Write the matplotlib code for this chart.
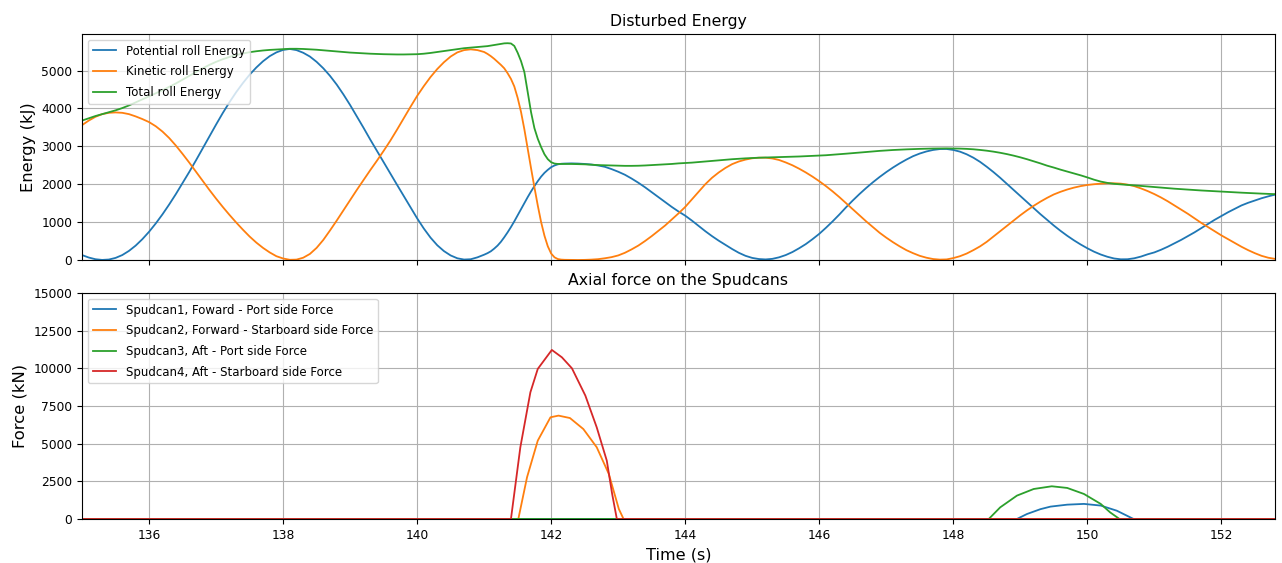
import matplotlib
matplotlib.use("Agg")
import matplotlib.pyplot as plt

# ---- Roll energy time histories (kJ), sampled every 0.1 s (0.05 s around the impact) ----
t_energy = [
    135.0, 135.1, 135.2, 135.3, 135.4, 135.5, 135.6, 135.7, 135.8, 135.9,
    136.0, 136.1, 136.2, 136.3, 136.4, 136.5, 136.6, 136.7, 136.8, 136.9,
    137.0, 137.1, 137.2, 137.3, 137.4, 137.5, 137.6, 137.7, 137.8, 137.9,
    138.0, 138.1, 138.2, 138.3, 138.4, 138.5, 138.6, 138.7, 138.8, 138.9,
    139.0, 139.1, 139.2, 139.3, 139.4, 139.5, 139.6, 139.7, 139.8, 139.9,
    140.0, 140.1, 140.2, 140.3, 140.4, 140.5, 140.6, 140.7, 140.8, 140.9,
    141.0,
    141.05, 141.10, 141.15, 141.20, 141.25, 141.30, 141.35, 141.40, 141.45, 141.50,
    141.55, 141.60, 141.65, 141.70, 141.75, 141.80, 141.85, 141.90, 141.95, 142.00,
    142.05, 142.10, 142.15, 142.20,
    142.3, 142.4, 142.5, 142.6, 142.7, 142.8, 142.9,
    143.0, 143.1, 143.2, 143.3, 143.4, 143.5, 143.6, 143.7, 143.8, 143.9,
    144.0, 144.1, 144.2, 144.3, 144.4, 144.5, 144.6, 144.7, 144.8, 144.9,
    145.0, 145.1, 145.2, 145.3, 145.4, 145.5, 145.6, 145.7, 145.8, 145.9,
    146.0, 146.1, 146.2, 146.3, 146.4, 146.5, 146.6, 146.7, 146.8, 146.9,
    147.0, 147.1, 147.2, 147.3, 147.4, 147.5, 147.6, 147.7, 147.8, 147.9,
    148.0, 148.1, 148.2, 148.3, 148.4, 148.5, 148.6, 148.7, 148.8, 148.9,
    149.0, 149.1, 149.2, 149.3, 149.4, 149.5, 149.6, 149.7, 149.8, 149.9,
    150.0, 150.1, 150.2, 150.3, 150.4, 150.5, 150.6, 150.7, 150.8, 150.9,
    151.0, 151.1, 151.2, 151.3, 151.4, 151.5, 151.6, 151.7, 151.8, 151.9,
    152.0, 152.1, 152.2, 152.3, 152.4, 152.5, 152.6, 152.7, 152.8,
]

potential_energy = [
    130, 65, 20, 2, 12, 55, 130, 240, 380, 550,
    745, 965, 1205, 1465, 1740, 2030, 2325, 2630, 2945, 3260,
    3575, 3880, 4165, 4430, 4670, 4890, 5080, 5245, 5380, 5480,
    5545, 5570, 5540, 5470, 5370, 5230, 5060, 4860, 4630, 4370,
    4090, 3790, 3490, 3180, 2880, 2580, 2280, 1985, 1690, 1390,
    1100, 830, 590, 390, 235, 120, 45, 12, 20, 70,
    140,
    180, 230, 300, 380, 480, 600, 730, 870, 1020, 1180,
    1340, 1500, 1660, 1810, 1950, 2080, 2200, 2300, 2380, 2450,
    2495, 2525, 2540, 2545,
    2550, 2545, 2535, 2520, 2495, 2460, 2400,
    2330, 2250, 2150, 2040, 1920, 1790, 1660, 1530, 1400, 1280,
    1170, 1040, 900, 760, 630, 510, 400, 290, 190, 110,
    55, 25, 15, 30, 70, 130, 210, 310, 420, 550,
    690, 850, 1020, 1200, 1390, 1570, 1740, 1900, 2050, 2190,
    2320, 2440, 2550, 2650, 2740, 2810, 2865, 2905, 2928, 2930,
    2905, 2860, 2790, 2700, 2590, 2460, 2320, 2170, 2010, 1850,
    1690, 1530, 1370, 1210, 1060, 910, 770, 640, 520, 410,
    310, 220, 145, 85, 40, 18, 20, 45, 90, 150,
    200, 270, 350, 440, 530, 630, 730, 840, 950, 1060,
    1160, 1260, 1350, 1440, 1510, 1570, 1630, 1680, 1725,
]

kinetic_energy = [
    3560, 3680, 3780, 3850, 3885, 3895, 3885, 3850, 3790, 3720,
    3640, 3530, 3390, 3220, 3020, 2800, 2570, 2330, 2090, 1850,
    1620, 1400, 1190, 990, 800, 620, 460, 320, 200, 100,
    40, 5, 10, 60, 160, 320, 530, 780, 1040, 1310,
    1580, 1850, 2110, 2370, 2620, 2880, 3150, 3440, 3740, 4040,
    4330, 4590, 4830, 5040, 5220, 5370, 5480, 5540, 5560, 5540,
    5490,
    5440, 5380, 5310, 5230, 5150, 5060, 4930, 4780, 4580, 4280,
    3910, 3450, 2930, 2420, 1920, 1440, 1000, 640, 360, 170,
    70, 25, 10, 5,
    2, 0, 3, 10, 22, 45, 75,
    120, 190, 280, 380, 500, 630, 770, 910, 1070, 1230,
    1400, 1600, 1800, 2000, 2170, 2310, 2430, 2530, 2600, 2650,
    2685, 2700, 2700, 2680, 2640, 2575, 2500, 2410, 2310, 2200,
    2080, 1950, 1810, 1660, 1500, 1340, 1180, 1020, 870, 720,
    590, 470, 360, 260, 180, 110, 60, 25, 10, 15,
    50, 100, 170, 260, 360, 480, 620, 760, 900, 1040,
    1180, 1310, 1430, 1540, 1640, 1730, 1800, 1860, 1910, 1950,
    1980, 2000, 2015, 2025, 2025, 2015, 1990, 1950, 1890, 1820,
    1740, 1650, 1550, 1440, 1330, 1220, 1100, 980, 870, 760,
    650, 550, 450, 350, 260, 180, 110, 60, 30,
]

total_energy = [
    3680, 3740, 3800, 3850, 3900, 3950, 4010, 4080, 4160, 4240,
    4320, 4400, 4480, 4570, 4660, 4760, 4860, 4960, 5060, 5150,
    5230, 5300, 5360, 5410, 5450, 5485, 5510, 5530, 5545, 5555,
    5565, 5575, 5575, 5570, 5560, 5550, 5535, 5520, 5505, 5490,
    5475, 5465, 5455, 5445, 5438, 5432, 5428, 5425, 5425, 5428,
    5432, 5445, 5465, 5490, 5515, 5540, 5565, 5590, 5605, 5620,
    5635,
    5645, 5660, 5675, 5690, 5705, 5718, 5722, 5715, 5650, 5470,
    5250, 4960, 4430, 3900, 3480, 3200, 2980, 2790, 2660, 2580,
    2545, 2535, 2535, 2535,
    2535, 2530, 2525, 2515, 2505, 2500, 2495,
    2490, 2485, 2485, 2488, 2495, 2505, 2515, 2525, 2535, 2550,
    2560, 2570, 2585, 2600, 2615, 2630, 2645, 2660, 2672, 2683,
    2692, 2700, 2705, 2710, 2715, 2720, 2725, 2732, 2740, 2748,
    2755, 2765, 2778, 2792, 2806, 2820, 2835, 2850, 2865, 2880,
    2892, 2903, 2912, 2920, 2927, 2933, 2938, 2942, 2945, 2946,
    2944, 2940, 2933, 2922, 2905, 2885, 2860, 2830, 2795, 2755,
    2710, 2660, 2605, 2550, 2490, 2440, 2385, 2335, 2285, 2235,
    2180, 2120, 2070, 2035, 2010, 1995, 1982, 1970, 1955, 1940,
    1925, 1910, 1895, 1882, 1870, 1858, 1846, 1835, 1825, 1815,
    1805, 1795, 1786, 1777, 1768, 1760, 1752, 1745, 1738,
]

# ---- Spudcan axial forces (kN) ----
t_spud1 = [135.0, 148.95, 149.10, 149.30, 149.45, 149.70, 149.95, 150.20, 150.44, 150.59, 150.69, 152.8]
f_spud1 = [0, 0, 330, 650, 820, 950, 1000, 890, 550, 220, 0, 0]

t_spud2 = [135.0, 141.51, 141.64, 141.80, 141.99, 142.11, 142.28, 142.48, 142.68, 142.86, 143.01, 143.08, 152.8]
f_spud2 = [0, 0, 2770, 5200, 6750, 6860, 6700, 5970, 4760, 2990, 660, 0, 0]

t_spud3 = [135.0, 148.53, 148.70, 148.95, 149.20, 149.47, 149.70, 149.95, 150.20, 150.34, 150.48, 152.8]
f_spud3 = [0, 0, 770, 1550, 1990, 2170, 2060, 1660, 1000, 440, 0, 0]

t_spud4 = [135.0, 141.40, 141.54, 141.69, 141.80, 142.01, 142.16, 142.31, 142.51, 142.68, 142.83, 142.91, 142.98, 152.8]
f_spud4 = [0, 0, 4760, 8410, 9960, 11220, 10730, 10000, 8190, 6080, 3870, 1660, 0, 0]

energy_labels = ["Potential roll Energy", "Kinetic roll Energy", "Total roll Energy"]
spud_labels = [
    "Spudcan1, Foward - Port side Force",
    "Spudcan2, Forward - Starboard side Force",
    "Spudcan3, Aft - Port side Force",
    "Spudcan4, Aft - Starboard side Force",
]

fig = plt.figure(figsize=(12.82, 5.63), dpi=100)
ax1 = fig.add_axes([0.064, 0.5382, 0.9305, 0.4014])
ax2 = fig.add_axes([0.064, 0.0782, 0.9305, 0.4014], sharex=ax1)

lw = 1.3
ax1.plot(t_energy, potential_energy, color="tab:blue", lw=lw, label=energy_labels[0])
ax1.plot(t_energy, kinetic_energy, color="tab:orange", lw=lw, label=energy_labels[1])
ax1.plot(t_energy, total_energy, color="tab:green", lw=lw, label=energy_labels[2])
ax1.set_title("Disturbed Energy", fontsize=11.3)
ax1.set_ylabel("Energy (kJ)", fontsize=11.8)
ax1.set_ylim(0, 5965)
ax1.set_yticks([0, 1000, 2000, 3000, 4000, 5000])
ax1.grid(True, color="#b0b0b0", lw=0.8)
ax1.legend(loc="upper left", fontsize=8.5, labelspacing=0.65)
ax1.tick_params(labelsize=8.8, labelbottom=False)

ax2.plot(t_spud1, f_spud1, color="tab:blue", lw=lw, label=spud_labels[0])
ax2.plot(t_spud2, f_spud2, color="tab:orange", lw=lw, label=spud_labels[1])
ax2.plot(t_spud3, f_spud3, color="tab:green", lw=lw, label=spud_labels[2])
ax2.plot(t_spud4, f_spud4, color="tab:red", lw=lw, label=spud_labels[3])
ax2.set_title("Axial force on the Spudcans", fontsize=11.3)
ax2.set_ylabel("Force (kN)", fontsize=11.8)
ax2.set_xlabel("Time (s)", fontsize=11.6)
ax2.set_ylim(0, 15000)
ax2.set_yticks([0, 2500, 5000, 7500, 10000, 12500, 15000])
ax2.grid(True, color="#b0b0b0", lw=0.8)
ax2.legend(loc="upper left", fontsize=8.5, labelspacing=0.65)
ax2.tick_params(labelsize=8.8)

ax1.set_xlim(135.0, 152.8)
ax2.set_xticks([136, 138, 140, 142, 144, 146, 148, 150, 152])

fig.savefig("out.png", dpi=100)
